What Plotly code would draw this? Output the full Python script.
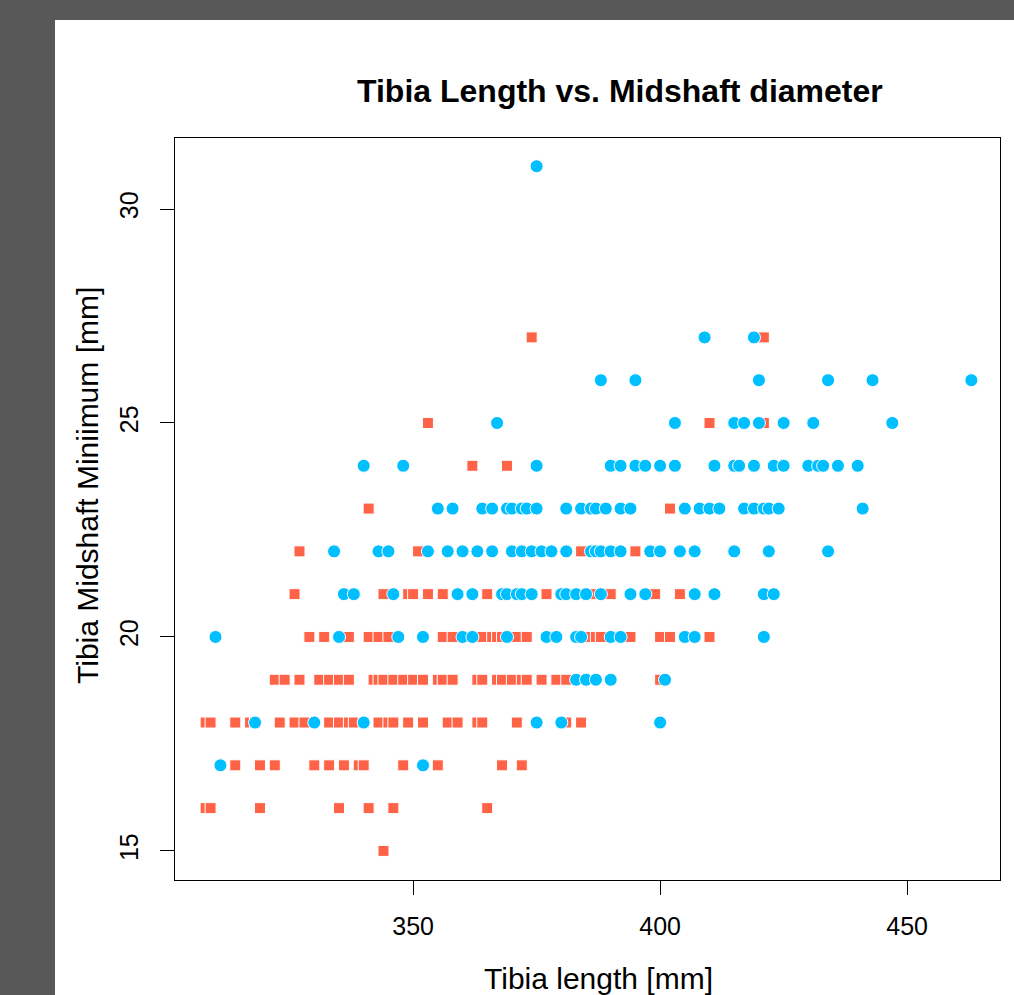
import plotly.graph_objects as go

# ---- data (tibia length [mm], midshaft minimum [mm]) ----
orange_len = [
    344,
    308, 309, 319, 335, 341, 346, 365,
    314, 319, 322, 330, 333, 336, 339, 340, 348, 355, 368, 372,
    308, 309, 314, 317, 318, 323, 326, 328, 333, 335, 337, 338, 340, 343, 345, 346,
    349, 352, 357, 359, 363, 364, 371, 381, 384,
    322, 324, 327, 331, 333, 335, 337, 342, 343, 344, 346, 348, 350, 352, 355, 356,
    358, 363, 364, 367, 368, 370, 372, 373, 376, 379, 381, 400,
    329, 332, 337, 341, 343, 345, 356, 358, 361, 364, 366, 367, 368, 371, 373, 385,
    387, 388, 394, 400, 402, 410,
    326, 344, 349, 350, 353, 356, 365, 377, 386, 390, 399, 404,
    327, 351, 384, 395,
    341, 402,
    362, 369,
    353, 410, 421,
    374, 421,
]
orange_min = (
    [15] * 1 + [16] * 7 + [17] * 12 + [18] * 25 + [19] * 28 + [20] * 22
    + [21] * 12 + [22] * 4 + [23] * 2 + [24] * 2 + [25] * 3 + [27] * 2
)

blue_len = [
    311, 352,
    318, 330, 340, 375, 380, 400,
    383, 385, 387, 390, 401,
    310, 335, 347, 352, 360, 362, 369, 377, 379, 383, 384, 390, 392, 405, 407, 421,
    336, 338, 346, 359, 362, 368, 369, 371, 372, 374, 380, 381, 383, 385, 388, 394,
    397, 407, 411, 421, 423,
    334, 343, 345, 353, 357, 360, 363, 366, 370, 372, 374, 376, 378, 381, 386, 387,
    388, 390, 392, 398, 400, 404, 407, 415, 422, 434,
    355, 358, 364, 366, 369, 370, 372, 373, 375, 381, 384, 386, 387, 389, 392, 394,
    405, 408, 410, 412, 417, 419, 421, 422, 424, 441,
    340, 348, 375, 390, 392, 395, 397, 400, 403, 411, 415, 416, 419, 423, 425, 430,
    432, 433, 436, 440,
    367, 403, 415, 417, 420, 425, 431, 447,
    388, 395, 420, 434, 443, 463,
    409, 419,
    375,
]
blue_min = (
    [17] * 2 + [18] * 6 + [19] * 5 + [20] * 16 + [21] * 21 + [22] * 26
    + [23] * 26 + [24] * 20 + [25] * 8 + [26] * 6 + [27] * 2 + [31] * 1
)

x_ticks = [350, 400, 450]
y_ticks = [15, 20, 25, 30]

title_text = "Tibia Length vs. Midshaft diameter"
x_label = "Tibia length [mm]"
y_label = "Tibia Midshaft Miniimum [mm]"

ORANGE = "#FF6347"
BLUE = "#00BFFF"
GREY = "#585858"
FONT = "Liberation Sans, Arial, sans-serif"

W, H = 1014, 995
L, R, T, B = 175, 14, 138, 115
pw, ph = W - L - R, H - T - B


def px_x(p):
    return (p - L) / pw


def px_y(p):
    return (H - B - p) / ph


fig = go.Figure()
fig.add_trace(go.Scatter(
    x=orange_len, y=orange_min, mode="markers", name="orange",
    marker=dict(symbol="square", size=11, color=ORANGE,
                line=dict(color="white", width=1)),
))
fig.add_trace(go.Scatter(
    x=blue_len, y=blue_min, mode="markers", name="blue",
    marker=dict(symbol="circle", size=13, color=BLUE,
                line=dict(color="white", width=1)),
))

axis_common = dict(
    showgrid=False, zeroline=False, showline=True, linecolor="black",
    linewidth=1, mirror=True, ticks="outside", ticklen=14, tickcolor="black",
    tickfont=dict(family=FONT, size=25, color="black"),
)

fig.update_layout(
    width=W, height=H,
    margin=dict(l=L, r=R, t=T, b=B),
    paper_bgcolor=GREY,
    plot_bgcolor="white",
    showlegend=False,
    xaxis=dict(range=[301.8, 468.8], tickvals=x_ticks, ticklabelstandoff=10,
               **axis_common),
    yaxis=dict(range=[14.32, 31.66], tickvals=y_ticks, tickangle=-90,
               ticklabelstandoff=12, **axis_common),
    shapes=[dict(type="rect", xref="paper", yref="paper", layer="below",
                 x0=px_x(55), x1=px_x(W + 5), y0=px_y(H + 5), y1=px_y(20),
                 fillcolor="white", line=dict(width=0))],
    annotations=[
        dict(text="<b>" + title_text + "</b>", xref="paper", yref="paper",
             x=px_x(620), y=px_y(91), showarrow=False,
             font=dict(family=FONT, size=32, color="black"),
             xanchor="center", yanchor="middle"),
        dict(text=x_label, xref="paper", yref="paper",
             x=px_x(598), y=px_y(978), showarrow=False,
             font=dict(family=FONT, size=30, color="black"),
             xanchor="center", yanchor="middle"),
        dict(text=y_label, xref="paper", yref="paper",
             x=px_x(88), y=px_y(486), showarrow=False, textangle=-90,
             font=dict(family=FONT, size=30, color="black"),
             xanchor="center", yanchor="middle"),
    ],
)

fig.write_html(
    "out.html",
    config={"displayModeBar": False},
    post_script=("document.body.style.margin='0';"
                 "document.body.style.background='" + GREY + "';"),
)
